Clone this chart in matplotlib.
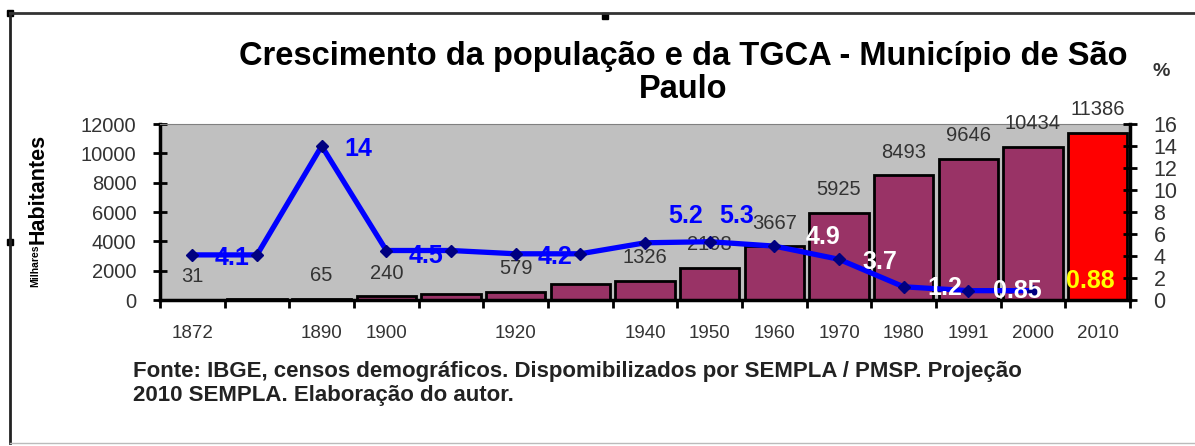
import matplotlib
matplotlib.use("Agg")
import matplotlib.pyplot as plt
from matplotlib.patches import Rectangle
import numpy as np

plt.rcParams['font.family'] = ['Liberation Sans', 'DejaVu Sans']

# populacao (milhares) por censo; 1886, 1910 e 1934 sem rotulo no eixo
anos = ['1872', '', '1890', '1900', '', '1920', '', '1940', '1950', '1960',
        '1970', '1980', '1991', '2000', '2010']
populacao = [31, 48, 65, 240, 380, 579, 1060, 1326, 2198, 3667,
             5925, 8493, 9646, 10434, 11386]
rotulos_pop = ['31', '', '65', '240', '', '579', '', '1326', '2198', '3667',
               '5925', '8493', '9646', '10434', '11386']
# TGCA (%) - linha
tgca = [4.1, 4.1, 14, 4.5, 4.5, 4.2, 4.2, 5.2, 5.3, 4.9, 3.7, 1.2, 0.85, 0.85]
# rotulos da TGCA: texto, x (categoria), y (%), cor
rot_tgca = ['4.1', '14', '4.5', '4.2', '5.2', '5.3', '4.9', '3.7', '1.2', '0.85', '0.88']
rot_x = [0.61, 2.56, 3.61, 5.61, 7.63, 8.42, 9.75, 10.63, 11.64, 12.75, 13.88]
rot_y = [3.84, 13.76, 4.02, 3.93, 7.68, 7.68, 5.76, 3.47, 1.1, 0.82, 1.74]
rot_cor = ['#0000FF'] * 6 + ['white'] * 4 + ['#FFFF00']

W, H = 1195, 446
fig = plt.figure(figsize=(W / 100, H / 100), dpi=100)
ax = fig.add_axes([160 / W, 1 - 300 / H, 970 / W, 176 / H])
ax.set_facecolor('#C0C0C0')

x = np.arange(len(populacao))
cores = ['#993366'] * (len(populacao) - 1) + ['#FF0000']
ax.bar(x, populacao, width=0.92, color=cores, edgecolor='black', linewidth=2, zorder=2)
ax.set_xlim(-0.5, len(populacao) - 0.5)
ax.set_ylim(0, 12000)
ax.set_yticks(range(0, 12001, 2000))
ax.tick_params(axis='y', direction='inout', length=10, width=2, labelsize=14.5,
               labelcolor='#333333', pad=12)
ax.set_xticks(np.arange(-0.5, len(populacao), 1))
ax.set_xticklabels([])
ax.set_xticks(x, minor=True)
ax.set_xticklabels(anos, minor=True)
ax.tick_params(axis='x', which='major', direction='out', length=6, width=2)
ax.tick_params(axis='x', which='minor', length=0, labelsize=13.5,
               labelcolor='#333333', pad=18)
for side in ['left', 'bottom']:
    ax.spines[side].set_linewidth(2.5)
ax.spines['top'].set_color('#808080')
ax.spines['right'].set_visible(False)

for xi, v, t in zip(x, populacao, rotulos_pop):
    if t:
        ax.text(xi, v + 1580, t, ha='center', va='center', fontsize=14.5,
                color='#333333', zorder=5, clip_on=False)

ax2 = ax.twinx()
ax2.set_ylim(0, 16)
ax2.set_yticks(range(0, 17, 2))
ax2.tick_params(axis='y', direction='inout', length=10, width=2, labelsize=15.5,
                labelcolor='#333333', pad=12)
ax2.spines['right'].set_linewidth(2.5)
for s in ['left', 'top', 'bottom']:
    ax2.spines[s].set_visible(False)
ax2.plot(np.arange(len(tgca)), tgca, color='#0000FF', linewidth=3.8,
         marker='D', markersize=6, markerfacecolor='#000080',
         markeredgecolor='#000080', zorder=4)
for t, rx, ry, c in zip(rot_tgca, rot_x, rot_y, rot_cor):
    ax2.text(rx, ry, t, ha='center', va='center', fontsize=18, fontweight='bold',
             color=c, zorder=6)

fig.text(683 / W, 1 - 57 / H, 'Crescimento da população e da TGCA - Município de São',
         ha='center', va='center', fontsize=23.5, fontweight='bold')
fig.text(683 / W, 1 - 90 / H, 'Paulo', ha='center', va='center', fontsize=23.5,
         fontweight='bold')
fig.text(1161 / W, 1 - 71 / H, '%', ha='center', va='center', fontsize=14,
         fontweight='bold', color='#333333')
fig.text(38 / W, 1 - 189 / H, 'Habitantes', ha='center', va='center', rotation=90,
         fontsize=15.5, fontweight='bold')
fig.text(35 / W, 1 - 266 / H, 'Milhares', ha='center', va='center', rotation=90,
         fontsize=7.5, fontweight='bold')
fig.text(133 / W, 1 - 371 / H,
         'Fonte: IBGE, censos demográficos. Dispomibilizados por SEMPLA / PMSP. Projeção',
         ha='left', va='center', fontsize=16, fontweight='bold', color='#222222')
fig.text(133 / W, 1 - 396 / H, '2010 SEMPLA. Elaboração do autor.',
         ha='left', va='center', fontsize=16, fontweight='bold', color='#222222')

# moldura do grafico
fig.add_artist(plt.Line2D([10 / W, 10 / W], [1 - 13 / H, 1 - 443 / H],
                          transform=fig.transFigure, color='#222222', linewidth=2))
fig.add_artist(plt.Line2D([10 / W, 1], [1 - 13 / H, 1 - 13 / H],
                          transform=fig.transFigure, color='#333333', linewidth=2))
fig.add_artist(plt.Line2D([10 / W, 1], [1 - 443 / H, 1 - 443 / H],
                          transform=fig.transFigure, color='#BBBBBB', linewidth=1))
for hx, hy in [(10, 13), (605, 16), (10, 242)]:
    fig.add_artist(Rectangle(((hx - 3) / W, 1 - (hy + 3) / H), 6 / W, 6 / H,
                             transform=fig.transFigure, color='black'))

fig.savefig('out.png', dpi=100)
